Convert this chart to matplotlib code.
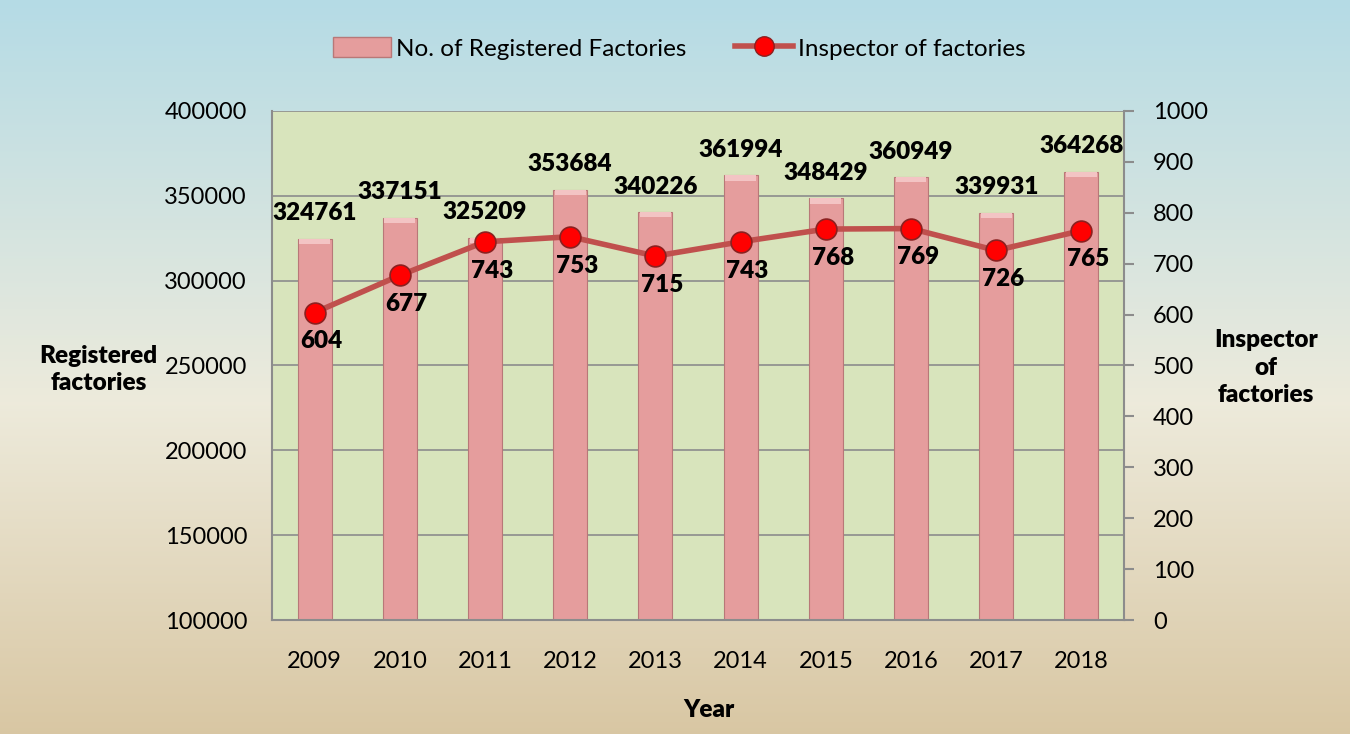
import numpy as np
import matplotlib.pyplot as plt
from matplotlib.lines import Line2D
from matplotlib.patches import Patch

years = ['2009', '2010', '2011', '2012', '2013', '2014', '2015', '2016', '2017', '2018']
registered = [324761, 337151, 325209, 353684, 340226, 361994, 348429, 360949, 339931, 364268]
inspectors = [604, 677, 743, 753, 715, 743, 768, 769, 726, 765]

plt.rcParams['font.family'] = ['Lato', 'DejaVu Sans']

fig = plt.figure(figsize=(13.5, 7.34), dpi=100)

# background gradient: light blue -> pale -> tan
bg = fig.add_axes([0, 0, 1, 1], zorder=-10)
grad = np.linspace(0, 1, 256)[:, None]
top = np.array([0.71, 0.86, 0.90])
mid = np.array([0.93, 0.92, 0.86])
bot = np.array([0.85, 0.78, 0.64])
cols = np.where(grad[..., None] < 0.55,
                top + (mid - top) * (grad[..., None] / 0.55),
                mid + (bot - mid) * ((grad[..., None] - 0.55) / 0.45))
bg.imshow(cols, aspect='auto', extent=[0, 1, 0, 1])
bg.axis('off')

ax = fig.add_axes([0.2015, 0.1553, 0.6311, 0.6935])
ax.set_facecolor('#d8e4bc')
x = np.arange(len(years))

# bars with a light bevel cap on top
ax.bar(x, registered, width=0.4, color='#e59d9d', edgecolor='#b87878', linewidth=0.8, zorder=2)
ax.bar(x, [3000] * len(x), bottom=np.array(registered) - 3000, width=0.36,
       color='#f3c4c4', edgecolor='none', zorder=3)
ax.set_ylim(100000, 400000)
ax.set_xlim(-0.5, len(years) - 0.5)
ax.set_yticks(range(100000, 400001, 50000))
ax.yaxis.grid(True, color='#8c8c8c', linewidth=1.2, zorder=1)
ax.set_axisbelow(True)
for s in ['top', 'right']:
    ax.spines[s].set_visible(False)
for s in ['left', 'bottom']:
    ax.spines[s].set_color('#8c8c8c')
    ax.spines[s].set_linewidth(1.5)
ax.set_xticks(x)
ax.set_xticklabels(years)
ax.tick_params(axis='x', labelsize=17, length=0, pad=22)
ax.tick_params(axis='y', labelsize=17, length=0, pad=18)

for xi, v in zip(x, registered):
    ax.text(xi, v + 8500, str(v), ha='center', va='bottom', fontsize=17.5, fontweight='heavy')

ax2 = ax.twinx()
ax2.plot(x, inspectors, color='#c0504d', linewidth=4, marker='o', markersize=15,
         markerfacecolor='#ff0000', markeredgecolor='#8b2020', markeredgewidth=1.2, zorder=5)
ax2.set_ylim(0, 1000)
ax2.set_yticks(range(0, 1001, 100))
ax2.tick_params(axis='y', labelsize=17, direction='out', length=7, width=1.5,
                color='#8c8c8c', pad=14)
for s in ['top', 'left', 'bottom']:
    ax2.spines[s].set_visible(False)
ax2.spines['right'].set_color('#8c8c8c')
ax2.spines['right'].set_linewidth(1.5)

for xi, v in zip(x, inspectors):
    ax2.text(xi + 0.08, v - 35, str(v), ha='center', va='top', fontsize=17.5,
             fontweight='heavy', zorder=6)

fig.text(0.073, 0.497, 'Registered\nfactories', ha='center', va='center',
         fontsize=17.5, fontweight='heavy', linespacing=1.3)
fig.text(0.938, 0.499, 'Inspector\nof\nfactories', ha='center', va='center',
         fontsize=17.5, fontweight='heavy', linespacing=1.3)
fig.text(0.525, 0.033, 'Year', ha='center', va='center', fontsize=17.5, fontweight='heavy')

handles = [Patch(facecolor='#e59d9d', edgecolor='#b87878'),
           Line2D([0], [0], color='#c0504d', linewidth=4, marker='o', markersize=14,
                  markerfacecolor='#ff0000', markeredgecolor='#8b2020')]
fig.legend(handles, ['No. of Registered Factories', 'Inspector of factories'],
           loc='center', bbox_to_anchor=(0.503, 0.934), ncol=2, frameon=False,
           fontsize=17.5, handlelength=2.4, handleheight=0.9, columnspacing=2.0,
           handletextpad=0.2)

fig.savefig('out.png', dpi=100)
